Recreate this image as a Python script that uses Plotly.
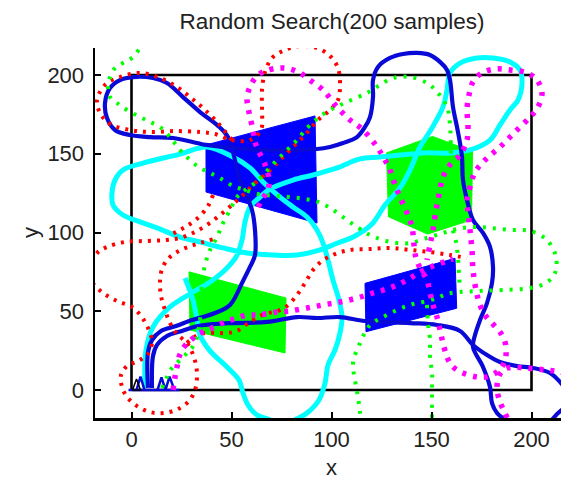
import plotly.graph_objects as go

# ---------------- data ----------------
title_text = "Random Search(200 samples)"
x_ticks = [0, 50, 100, 150, 200]
y_ticks = [0, 50, 100, 150, 200]

boundary_x = [0, 200, 200, 0, 0]
boundary_y = [0, 0, 200, 200, 0]

obst_blue1 = [(37.25, 155.6), (91.75, 174.0), (92.75, 106.0), (37.25, 125.7)]
obst_blue2 = [(116.75, 67.7), (161.75, 83.6), (162.6, 51.9), (117.25, 37.0)]
obst_green1 = [(127.5, 150.5), (150.5, 161.0), (170.5, 151.5), (170.0, 108.0), (148.0, 99.0), (128.5, 110.0)]
obst_green2 = [(28.75, 75.0), (77.25, 58.4), (76.75, 23.5), (29.25, 38.1)]

blue_seg1 = [(8.25,1.3),(8.25,24.1),(10.25,31.7),(14.75,37.5),(22.25,40.6),(30.25,44.4),(35.75,46.3),(41.75,48.9),
             (49.25,54.0),(55.75,69.2),(59.25,78.1),(61.75,85.7),(61.75,101.6),(60.25,114.3),(54.25,133.3),(48.25,160.6),
             (42.75,168.3),(34.25,176.5),(25.75,186.0),(17.75,194.9),(10.75,198.1),(0.75,198.7),(-5.75,196.8),(-10.75,191.7),
             (-13.25,182.2),(-12.25,172.7),(-8.25,165.1),(-0.75,161.9),(9.25,160.6),(20.75,160.0),(32.75,156.8),(37.25,155.6),
             (64.25,152.4),(92.75,153.0),(99.25,154.3),(105.75,156.8),(112.75,160.6),(116.75,167.0),(119.25,173.3),(120.75,186.0),
             (120.75,196.8),(123.25,205.1),(129.25,210.8),(135.75,213.3),(142.75,214.0),(149.25,212.7),(154.25,208.3),(157.75,203.2),
             (159.25,196.8),(160.75,179.7),(162.75,167.0),(164.25,156.8),(165.25,147.9),(165.75,133.3),(167.75,120.6),(170.75,107.9),
             (175.75,99.7),(179.25,90.8),(180.75,78.1),(180.25,67.9),(177.75,55.2),(174.25,44.4),(171.75,34.9),(170.75,27.3),
             (175.75,14.6),(179.25,1.9),(180.25,-8.3),(182.75,-14.6),(186.75,-19.0),(191.75,-25.4)]
blue_seg2 = [(10.25,1.3),(10.75,21.6),(12.75,28.6),(17.75,34.3),(25.25,37.5),(33.25,40.6),(41.75,41.9),(50.75,42.5),
             (67.75,43.2),(82.75,46.3),(92.75,45.7),(104.25,46.3),(116.75,43.8),(139.25,42.5),(152.75,41.3),(164.25,37.5),
             (170.75,28.6),(177.75,22.2),(184.25,17.8),(192.75,15.2),(200.75,14.0),(209.25,10.8),(214.75,4.4),(218.25,-1.9),
             (217.25,-9.5),(212.25,-15.9),(208.25,-22.2)]

cyan_path = [(6.75,1.3),(7.25,25.4),(10.75,40.0),(19.25,52.7),(29.25,61.0),(39.25,68.6),(46.75,76.2),(52.25,84.4),
             (55.25,95.2),(56.75,106.7),(59.25,116.2),(64.25,122.5),(69.25,127.6),(80.75,133.3),(90.75,136.5),(102.75,141.0),
             (114.25,146.7),(124.25,147.9),(145.75,150.5),(159.25,150.5),(169.25,152.4),(179.25,158.7),(184.25,168.3),
             (189.25,177.8),(193.25,184.1),(195.25,194.9),(194.25,203.2),(189.25,208.3),(180.75,210.8),(172.75,210.8),
             (164.25,207.6),(159.25,201.3),(157.75,190.5),(155.75,179.7),(150.25,166.3),(144.25,154.3),(139.25,139.7),
             (134.25,128.3),(126.75,117.5),(120.25,105.4),(111.75,97.8),(101.75,92.7),(94.25,88.9),(82.75,85.7),(70.75,85.7),
             (57.75,87.0),(45.75,90.2),(34.25,94.0),(24.25,97.1),(12.75,102.9),(4.25,106.7),(-4.25,111.1),(-9.25,117.5),
             (-9.75,125.1),(-8.25,133.3),(-4.25,139.7),(5.75,144.1),(24.25,149.8),(37.75,154.3),(50.75,147.9),(59.25,141.0),
             (65.75,132.1),(74.25,122.5),(80.75,116.2),(87.75,109.8),(92.75,101.6),(95.75,93.3),(98.25,82.5),(100.75,69.8),
             (103.75,57.1),(105.25,46.3),(104.25,36.2),(101.75,25.4),(98.25,15.9),(96.75,4.4),(93.75,-6.3),(87.75,-14.6),
             (81.75,-19.0),(76.75,-22.9),(68.25,-18.4),(62.75,-15.9),(58.25,-9.5),(55.75,-1.9),(53.75,6.3),(47.75,14.6),
             (39.25,24.8),(34.25,34.9),(32.75,44.4),(30.75,57.1),(26.75,71.1)]

red_a = [(50.25,158.7),(42.75,170.2),(35.75,179.0),(29.25,186.0),(22.75,192.4),(14.25,198.1),(4.25,201.3),(-5.75,198.7),
         (-13.25,193.7),(-17.25,184.1),(-15.75,175.9),(-10.75,168.9),(-0.75,165.1),(9.25,163.8),(21.75,164.4),(34.25,163.8),
         (41.75,162.5),(50.25,158.7),(59.25,158.7),(64.75,165.1),(65.25,177.8),(65.25,190.5),(66.75,201.9),(70.25,210.8),
         (76.75,215.9),(84.25,218.4),(92.75,217.1),(99.25,212.1),(103.25,204.4),(104.25,193.7),(103.25,184.1),(99.25,177.8),
         (93.25,171.4),(86.75,161.9),(80.25,153.7),(74.25,146.0),(68.25,138.4),(61.75,131.4),(55.75,123.8),(50.25,117.5),
         (44.25,111.1),(37.75,104.8),(30.75,99.7),(24.25,96.5),(16.75,95.2),(6.75,94.6),(-3.25,94.0),(-12.25,90.8),
         (-17.25,87.0),(-21.75,77.5),(-19.75,68.6),(-14.25,61.6),(-7.25,56.5),(0.25,52.7),(4.75,47.0),(8.25,39.4),
         (10.25,30.5),(8.25,22.9),(3.25,18.4),(-2.25,15.2),(-5.25,9.5),(-4.75,1.9),(-2.25,-4.4),(2.75,-10.2),(9.25,-14.0),
         (16.25,-14.6),(23.25,-12.1),(28.75,-7.0),(31.75,0.0),(32.75,8.3),(32.25,15.9),(30.25,24.1),(27.75,29.8),
         (22.75,35.6),(19.25,42.5),(16.75,50.8),(14.75,59.7),(14.25,68.6),(15.25,76.8),(18.25,83.2),(22.75,87.6),
         (28.25,90.8),(34.25,93.3),(41.25,95.9)]
red_b = [(27.75,29.8),(32.25,34.3),(36.75,36.2),(42.75,36.2),(47.75,36.2),(52.75,37.5),(59.25,43.2),(66.75,48.3),
         (73.25,50.2),(77.75,53.3),(82.75,60.3),(86.75,67.9),(90.75,76.2),(95.25,81.9),(101.75,86.3),(109.25,88.9),
         (119.25,89.5),(129.25,90.2),(139.25,88.9),(149.25,87.6),(159.25,85.7),(167.75,83.8)]
red_c = [(40.75,123.8),(38.25,116.8),(34.25,110.5),(29.25,105.4),(24.25,101.6),(18.25,97.8)]

green_a = [(6.75,220.9),(4.25,217.1),(0.75,211.4),(-3.25,208.3),(-8.25,204.4),(-10.75,198.7),(-11.75,192.4),(-10.75,186.0),
           (-7.25,182.2),(-2.25,177.8),(4.25,173.3),(9.25,170.2),(14.25,167.0),(19.25,160.6),(24.25,152.4),(29.25,146.0),
           (34.25,141.0),(39.25,137.8),(44.25,134.6),(50.75,129.5),(56.75,127.0),(63.25,124.4),(71.75,123.2),(79.25,122.5),
           (86.75,121.3),(93.25,119.4),(99.25,115.6),(105.75,109.8),(112.75,103.5),(119.25,98.4),(125.75,95.2),(132.75,93.3),
           (139.25,93.3),(147.75,96.5),(155.75,99.7),(162.75,102.2),(170.75,103.5),(179.25,102.9),(189.25,101.6),
           (199.25,101.0),(207.75,95.2),(212.25,84.4),(211.75,74.3),(207.25,67.9),(199.25,64.8),(185.75,63.5),(174.25,62.9),
           (164.25,62.2),(157.75,61.0),(152.75,58.4),(145.75,55.9),(139.25,54.0),(132.75,50.8),(125.75,46.3),(119.25,41.3),
           (114.25,29.8),(110.75,17.1),(111.75,6.3),(113.25,-4.4),(114.25,-14.6),(115.25,-25.4)]
green_b = [(15.25,1.3),(17.75,8.3),(20.25,14.0),(24.25,19.0),(28.25,24.1),(31.75,29.8),(34.25,44.4),(35.25,68.6),
           (36.75,79.4),(39.25,88.9),(42.75,97.1),(45.75,106.0),(49.25,114.3),(52.75,122.5),(56.75,127.0),(61.75,131.4),
           (66.75,137.8),(72.75,146.0),(77.75,152.4),(82.75,158.7),(87.75,166.3),(93.25,172.7),(99.25,177.8),(107.75,182.9),
           (117.75,188.6),(124.25,193.7),(130.75,198.1),(139.25,198.7),(147.75,194.9),(153.25,188.6),(157.75,179.7),
           (159.25,168.3),(159.75,133.3),(160.25,104.8),(162.25,94.0),(163.25,83.8),(163.75,73.0),(164.25,63.5)]
green_c = [(147.75,54.0),(148.25,42.5),(149.25,31.7),(149.25,21.0),(150.25,10.8),(150.25,0.0),(150.25,-14.6),(150.25,-25.4)]

magenta_a = [(20.75,0.0),(21.75,8.3),(22.75,14.6),(23.75,21.0),(26.25,27.3),(29.75,31.7),(33.25,35.6),(36.75,37.5),
             (40.25,39.4),(46.75,43.2),(52.75,45.7),(57.75,47.6),(63.25,47.6),(72.75,49.5),(79.25,50.2),(87.75,52.1),
             (95.75,54.0),(104.25,55.9),(112.75,58.4),(120.75,61.6),(129.25,64.8),(137.75,69.8),(144.25,74.9),(150.75,78.7),
             (157.75,81.9),(160.75,83.2)]
magenta_b = [(63.25,116.2),(65.75,121.9),(68.25,127.0),(68.75,133.3),(67.75,139.7),(65.75,146.0),(63.25,152.4),(61.75,157.5),
             (60.75,165.1),(59.25,173.3),(58.25,179.7),(57.75,186.0),(59.25,192.4),(62.25,198.7),(66.75,202.5),(74.25,204.4),
             (79.25,203.8),(84.25,201.3),(89.25,196.8),(95.75,190.5),(102.75,179.7),(109.25,171.4),(115.75,165.1),(122.75,154.3),
             (126.75,146.0),(129.25,139.7),(131.75,130.2),(134.25,122.5),(137.75,112.4),(140.25,103.5),(141.25,92.1),(142.25,83.8),
             (144.25,77.5),(147.75,69.8),(149.25,61.6),(150.75,54.0),(152.75,46.3),(154.25,38.1),(155.75,29.8),(157.75,21.0),
             (160.25,15.2),(165.75,10.8),(172.75,8.3),(177.75,8.3),(182.75,11.4),(185.75,15.9),(187.25,22.2),(186.75,30.5),
             (184.25,36.8),(180.25,42.5),(176.75,47.6),(174.25,54.0),(172.25,63.5),(170.75,76.2),(170.25,88.9),(169.25,101.6),
             (168.25,113.0),(167.75,120.6),(169.25,128.9),(171.75,138.4),(176.75,146.0),(184.25,154.3),(191.75,163.8),
             (199.25,173.3),(203.25,179.7),(205.25,188.6),(202.75,196.8),(197.75,201.3),(189.25,203.2),(181.75,203.8),
             (175.25,201.3),(170.75,195.6),(168.75,187.3),(167.75,177.8),(168.25,168.3),(167.75,158.7),(164.25,149.2),
             (159.25,142.9),(155.75,135.2),(153.75,123.8),(152.25,114.3),(150.75,101.6),(149.25,92.1),(147.75,82.5)]
magenta_c = [(221.75,7.6),(214.75,11.4),(206.75,12.7),(196.75,14.0),(188.25,14.0),(184.25,10.2),(182.75,1.3),
             (184.25,-7.6),(186.75,-14.6),(189.25,-22.2)]

start_base = [(-1.5, 0.0), (24.0, 0.0)]
start_zig = [(2.5, 0.0), (4.5, 8.5), (6.5, 0.0), None, (13.0, 0.0), (15.0, 8.0), (17.0, 0.0), (19.0, 8.5), (21.5, 0.0)]
start_black = [(0.5, 0.0), (2.5, 7.0), (4.5, 0.0), (0.5, 0.0)]

# ---------------- colours / styles ----------------
C_BLUE_OBS = "#0000ff"
C_BLUE_PATH = "#0a0ad8"
C_GREEN = "#00ff00"
C_CYAN = "#00ffff"
C_RED = "#ff0000"
C_MAG = "#ff00ff"
FONT = "Liberation Sans, Arial, sans-serif"
TXT = "#222222"

FIG_W, FIG_H = 561, 480


def xy(pts, close=False):
    xs, ys = [], []
    for p in pts:
        if p is None:
            xs.append(None); ys.append(None)
        else:
            xs.append(p[0]); ys.append(p[1])
    if close:
        xs.append(pts[0][0]); ys.append(pts[0][1])
    return xs, ys


fig = go.Figure()

# obstacles
for poly, col in [(obst_blue1, C_BLUE_OBS), (obst_blue2, C_BLUE_OBS),
                  (obst_green1, C_GREEN), (obst_green2, C_GREEN)]:
    px_, py_ = xy(poly, close=True)
    fig.add_trace(go.Scatter(x=px_, y=py_, mode="lines", fill="toself", fillcolor=col,
                             line=dict(color=col, width=1), hoverinfo="skip", showlegend=False))

# boundary
fig.add_trace(go.Scatter(x=boundary_x, y=boundary_y, mode="lines",
                         line=dict(color="black", width=2.6), hoverinfo="skip", showlegend=False))


def path(pts, color, width, dash="solid", shape="spline"):
    px_, py_ = xy(pts)
    fig.add_trace(go.Scatter(x=px_, y=py_, mode="lines",
                             line=dict(color=color, width=width, dash=dash, shape=shape, smoothing=1.0),
                             hoverinfo="skip", showlegend=False))


path(cyan_path, C_CYAN, 5)
path(blue_seg1, C_BLUE_PATH, 4.2)
path(blue_seg2, C_BLUE_PATH, 4.2)
path(start_base, C_BLUE_PATH, 2.5, shape="linear")
path(start_zig, C_BLUE_PATH, 2.5, shape="linear")
path(start_black, "black", 1.5, shape="linear")
for seg in (red_a, red_b, red_c):
    path(seg, C_RED, 4, dash="3px,6px")
for seg in (green_a, green_b, green_c):
    path(seg, C_GREEN, 4, dash="3px,7px")
for seg in (magenta_a, magenta_b, magenta_c):
    path(seg, C_MAG, 5.5, dash="4px,7px")

fig.update_layout(
    width=FIG_W, height=FIG_H,
    margin=dict(l=95, r=0, t=48, b=FIG_H - 418, autoexpand=False),
    paper_bgcolor="white", plot_bgcolor="white",
    font=dict(family=FONT, size=22, color=TXT),
    title=dict(text=title_text, x=332 / FIG_W, xref="container", xanchor="center",
               y=1 - 21 / FIG_H, yref="container", yanchor="middle",
               font=dict(family=FONT, size=22.5, color=TXT)),
    showlegend=False,
    hovermode=False,
    annotations=[
        dict(text="x", xref="paper", yref="paper", x=(331 - 95) / 466, y=(418 - 467) / 370,
             showarrow=False, xanchor="center", yanchor="middle", font=dict(size=22, family=FONT, color=TXT)),
        dict(text="y", xref="paper", yref="paper", x=(30 - 95) / 466, y=0.5, textangle=-90,
             showarrow=False, xanchor="center", yanchor="middle", font=dict(size=22, family=FONT, color=TXT)),
    ],
)
fig.update_xaxes(range=[-18.25, 214.75], tickvals=x_ticks, ticks="inside", ticklen=6, tickwidth=2,
                 tickcolor="black", showline=True, linecolor="black", linewidth=2.5, showgrid=False,
                 zeroline=False, ticklabelstandoff=0, mirror=False, automargin=False,
                 tickfont=dict(size=22, family=FONT, color=TXT))
fig.update_yaxes(range=[-17.78, 217.14], tickvals=y_ticks, ticks="inside", ticklen=6, tickwidth=2,
                 tickcolor="black", showline=True, linecolor="black", linewidth=2.5, showgrid=False,
                 zeroline=False, ticklabelstandoff=4, mirror=False, automargin=False,
                 tickfont=dict(size=22, family=FONT, color=TXT))

# remove the default page margin so the figure sits at the window's top-left corner; no mode bar
fig.write_html("out.html", config={"displayModeBar": False, "staticPlot": True},
               post_script="document.body.style.margin='0';document.body.style.overflow='hidden';")
